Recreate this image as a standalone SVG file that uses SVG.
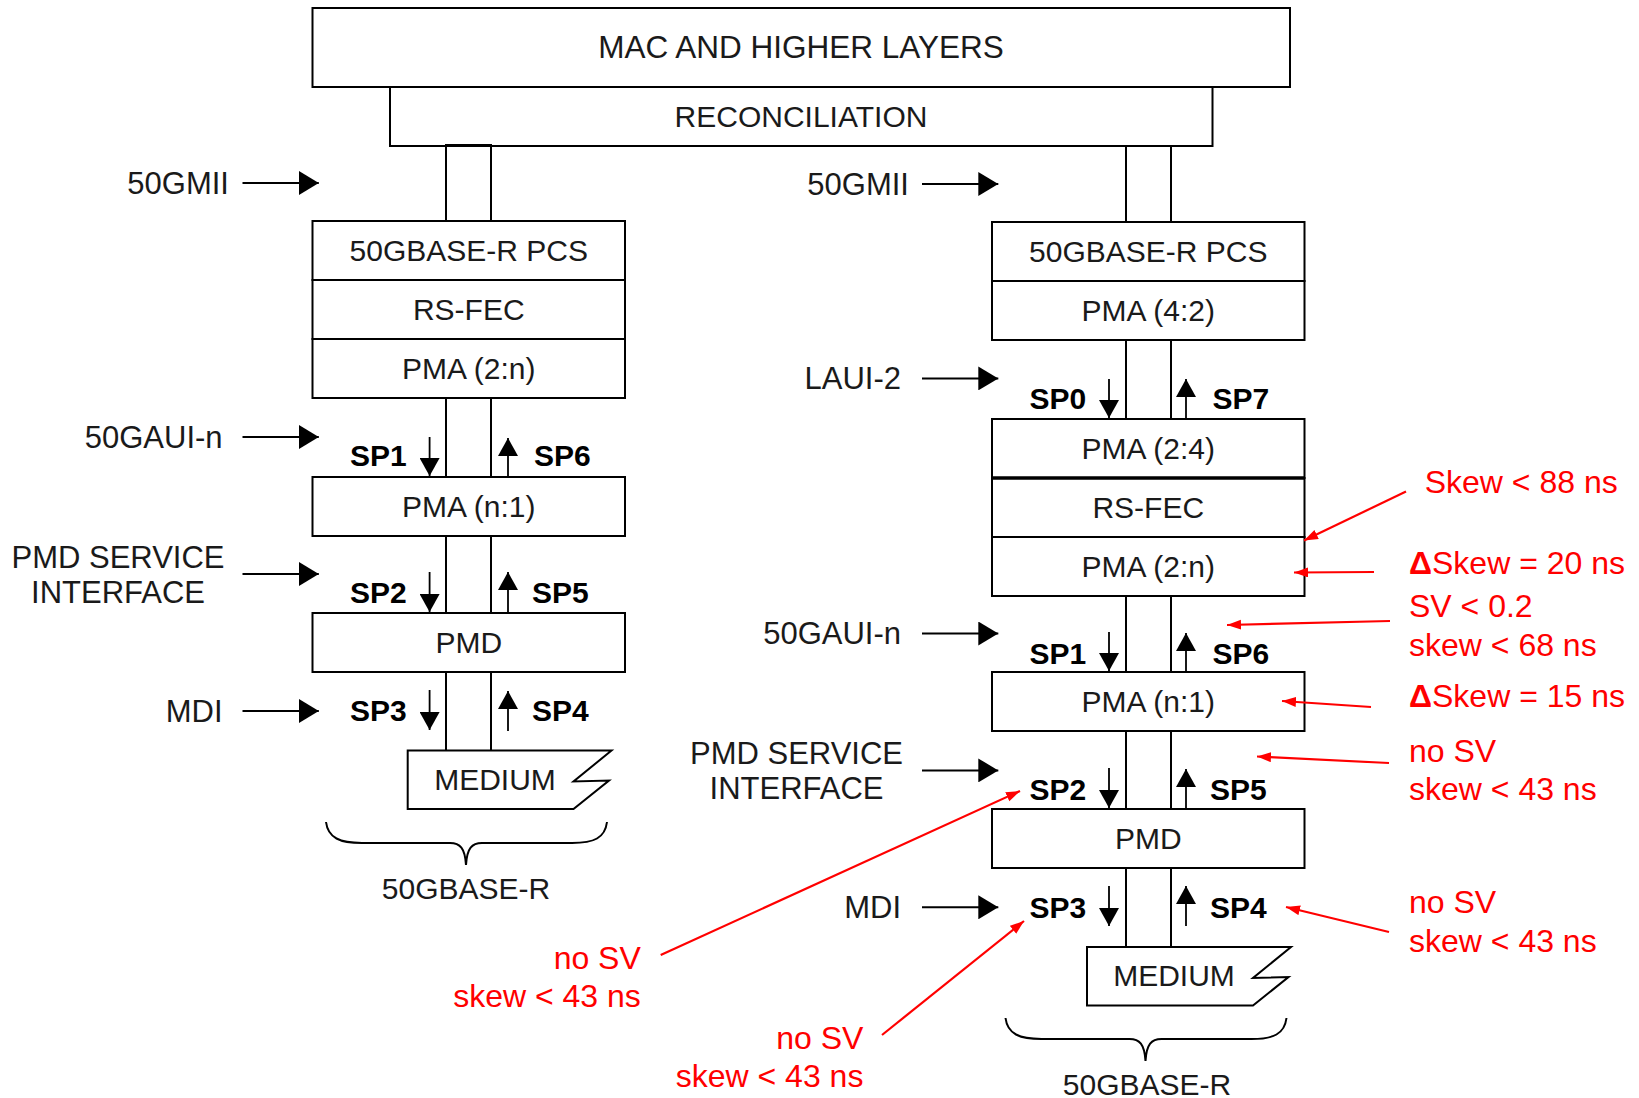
<svg xmlns="http://www.w3.org/2000/svg" width="1639" height="1098" viewBox="0 0 1639 1098">
<style>
.box{fill:#fff;stroke:#000;stroke-width:2}
.t{font-family:"Liberation Sans",Arial,sans-serif;font-size:30px;fill:#1a1a1a}
.il{font-size:31px}
.big{font-size:31.5px}
.c{text-anchor:middle}
.e{text-anchor:end}
.sp{font-family:"Liberation Sans",Arial,sans-serif;font-size:30px;font-weight:bold;fill:#000}
.red{font-family:"Liberation Sans",Arial,sans-serif;font-size:32px;fill:#f00}
.ln{stroke:#000;stroke-width:2;fill:none}
.la{stroke:#000;stroke-width:2;marker-end:url(#big)}
.sa{stroke:#000;stroke-width:1.8;marker-end:url(#small)}
.ra{stroke:#f00;stroke-width:2.2;marker-end:url(#redh)}
</style>
<defs>
<marker id="big" markerUnits="userSpaceOnUse" markerWidth="21" markerHeight="24" refX="20" refY="12" orient="auto"><path d="M0,0 L20,12 L0,24 Z" fill="#000"/></marker>
<marker id="small" markerUnits="userSpaceOnUse" markerWidth="19" markerHeight="20" refX="18" refY="10" orient="auto"><path d="M0,0 L18,10 L0,20 Z" fill="#000"/></marker>
<marker id="redh" markerUnits="userSpaceOnUse" markerWidth="15" markerHeight="11" refX="14" refY="5" orient="auto"><path d="M0,0 L14,5 L0,10 Z" fill="#f00"/></marker>
</defs>
<rect width="1639" height="1098" fill="#fff"/>

<g id="mac"><rect class="box" x="312.5" y="8" width="977.5" height="79"/><text class="t big c" x="801" y="58">MAC AND HIGHER LAYERS</text></g>
<g id="reconciliation"><rect class="box" x="390" y="87" width="822.5" height="59"/><text class="t c" x="801" y="126.5">RECONCILIATION</text></g>

<g id="pcs-l"><rect class="box" x="312.5" y="221" width="312.5" height="59"/><text class="t c" x="468.75" y="261">50GBASE-R PCS</text></g>
<g id="rsfec-l"><rect class="box" x="312.5" y="280" width="312.5" height="59"/><text class="t c" x="468.75" y="320">RS-FEC</text></g>
<g id="pma2n-l"><rect class="box" x="312.5" y="339" width="312.5" height="59"/><text class="t c" x="468.75" y="379">PMA (2:n)</text></g>
<g id="pman1-l"><rect class="box" x="312.5" y="477" width="312.5" height="59"/><text class="t c" x="468.75" y="517">PMA (n:1)</text></g>
<g id="pmd-l"><rect class="box" x="312.5" y="613" width="312.5" height="59"/><text class="t c" x="468.75" y="653">PMD</text></g>
<g id="medium-l"><path class="box" d="M407.7,750.5 L611.5,750.5 L573.5,781.5 L609,780.5 L573.5,809 L407.7,809 Z"/><text class="t c" x="495" y="790">MEDIUM</text></g>
<g id="brace-l"><path class="ln" d="M326,822 C328,838 340,843 362,843 L450,843 C460,843 465,848 466,865 C467,848 472,843 482,843 L572,843 C594,843 605,838 607,822"/><text class="t c" x="466" y="899">50GBASE-R</text></g>

<g id="pcs-r"><rect class="box" x="992" y="222" width="312.5" height="59"/><text class="t c" x="1148.25" y="262">50GBASE-R PCS</text></g>
<g id="pma42-r"><rect class="box" x="992" y="281" width="312.5" height="59"/><text class="t c" x="1148.25" y="321">PMA (4:2)</text></g>
<g id="pma24-r"><rect class="box" x="992" y="419" width="312.5" height="59"/><text class="t c" x="1148.25" y="459">PMA (2:4)</text></g>
<g id="rsfec-r"><rect class="box" x="992" y="478" width="312.5" height="59"/><line x1="992" y1="478" x2="1304.5" y2="478" stroke="#000" stroke-width="3.5"/><text class="t c" x="1148.25" y="518">RS-FEC</text></g>
<g id="pma2n-r"><rect class="box" x="992" y="537" width="312.5" height="59"/><text class="t c" x="1148.25" y="577">PMA (2:n)</text></g>
<g id="pman1-r"><rect class="box" x="992" y="672" width="312.5" height="59"/><text class="t c" x="1148.25" y="712">PMA (n:1)</text></g>
<g id="pmd-r"><rect class="box" x="992" y="809" width="312.5" height="59"/><text class="t c" x="1148.25" y="849">PMD</text></g>
<g id="medium-r"><path class="box" d="M1087,947 L1291,947 L1253,978 L1288.5,977 L1253,1005.5 L1087,1005.5 Z"/><text class="t c" x="1174" y="986">MEDIUM</text></g>
<g id="brace-r"><path class="ln" d="M1005.5,1018 C1007.5,1034 1019.5,1039 1041.5,1039 L1129.5,1039 C1139.5,1039 1144.5,1044 1145.5,1061 C1146.5,1044 1151.5,1039 1161.5,1039 L1251.5,1039 C1273.5,1039 1284.5,1034 1286.5,1018"/><text class="t c" x="1147" y="1095">50GBASE-R</text></g>

<g id="connectors">
<path class="ln" d="M446,221 V145 H491 V221"/>
<path class="ln" d="M446,398 V477 M491,398 V477 M446,536 V613 M491,536 V613 M446,672 V750.5 M491,672 V750.5"/>
<path class="ln" d="M1126,146 V222 M1171,146 V222 M1126,340 V419 M1171,340 V419 M1126,596 V672 M1171,596 V672 M1126,731 V809 M1171,731 V809 M1126,868 V947 M1171,868 V947"/>
<line class="sa" x1="429.6" y1="437" x2="429.6" y2="476"/>
<line class="sa" x1="429.6" y1="572" x2="429.6" y2="612"/>
<line class="sa" x1="429.6" y1="690" x2="429.6" y2="730"/>
<line class="sa" x1="508" y1="477" x2="508" y2="438"/>
<line class="sa" x1="508" y1="613" x2="508" y2="572"/>
<line class="sa" x1="508" y1="731" x2="508" y2="691"/>
<line class="sa" x1="1109" y1="379" x2="1109" y2="418"/>
<line class="sa" x1="1109" y1="632" x2="1109" y2="671"/>
<line class="sa" x1="1109" y1="768" x2="1109" y2="808"/>
<line class="sa" x1="1109" y1="886" x2="1109" y2="926"/>
<line class="sa" x1="1186" y1="419" x2="1186" y2="379"/>
<line class="sa" x1="1186" y1="672" x2="1186" y2="633"/>
<line class="sa" x1="1186" y1="809" x2="1186" y2="769"/>
<line class="sa" x1="1186" y1="926" x2="1186" y2="886"/>
<line class="la" x1="242.5" y1="183" x2="318.8" y2="183"/>
<line class="la" x1="242.5" y1="437" x2="318.8" y2="437"/>
<line class="la" x1="242.5" y1="574" x2="318.8" y2="574"/>
<line class="la" x1="242.5" y1="711" x2="318.8" y2="711"/>
<line class="la" x1="922" y1="184" x2="998.3" y2="184"/>
<line class="la" x1="922" y1="378.4" x2="998.3" y2="378.4"/>
<line class="la" x1="922" y1="633.5" x2="998.3" y2="633.5"/>
<line class="la" x1="922" y1="770.4" x2="998.3" y2="770.4"/>
<line class="la" x1="922" y1="907.3" x2="998.3" y2="907.3"/>
<line class="ra" x1="1406" y1="491.5" x2="1304" y2="540.5"/>
<line class="ra" x1="1374" y1="572" x2="1294" y2="572.5"/>
<line class="ra" x1="1390" y1="621" x2="1227" y2="625"/>
<line class="ra" x1="1371" y1="707" x2="1282" y2="701"/>
<line class="ra" x1="1389" y1="763" x2="1257" y2="756.5"/>
<line class="ra" x1="1389" y1="932" x2="1286" y2="907"/>
<line class="ra" x1="660.7" y1="955" x2="1020" y2="791"/>
<line class="ra" x1="882" y1="1035" x2="1024" y2="921"/>
</g>

<g id="interface-labels">
<text class="t il e" x="229" y="194">50GMII</text>
<text class="t il e" x="222.6" y="447.5">50GAUI-n</text>
<text class="t il c" x="118" y="567.5">PMD SERVICE</text>
<text class="t il c" x="118" y="603">INTERFACE</text>
<text class="t il e" x="222.6" y="721.5">MDI</text>
<text class="t il e" x="909" y="194.5">50GMII</text>
<text class="t il e" x="901" y="389">LAUI-2</text>
<text class="t il e" x="901" y="644">50GAUI-n</text>
<text class="t il c" x="796.5" y="764">PMD SERVICE</text>
<text class="t il c" x="796.5" y="798.5">INTERFACE</text>
<text class="t il e" x="901" y="918">MDI</text>
</g>

<g id="sp-labels">
<text class="sp" x="350" y="466">SP1</text>
<text class="sp" x="534" y="466">SP6</text>
<text class="sp" x="350" y="603">SP2</text>
<text class="sp" x="532" y="603">SP5</text>
<text class="sp" x="350" y="721">SP3</text>
<text class="sp" x="532" y="721">SP4</text>
<text class="sp" x="1029.6" y="409">SP0</text>
<text class="sp" x="1212.6" y="409">SP7</text>
<text class="sp" x="1029.6" y="664">SP1</text>
<text class="sp" x="1212.6" y="664">SP6</text>
<text class="sp" x="1029.6" y="800">SP2</text>
<text class="sp" x="1210" y="800">SP5</text>
<text class="sp" x="1029.6" y="918">SP3</text>
<text class="sp" x="1210" y="918">SP4</text>
</g>

<g id="annotations">
<text class="red" x="1424.7" y="493">Skew &lt; 88 ns</text>
<text class="red" x="1409" y="573.5"><tspan font-weight="bold">Δ</tspan>Skew = 20 ns</text>
<text class="red" x="1409" y="617">SV &lt; 0.2</text>
<text class="red" x="1409" y="656">skew &lt; 68 ns</text>
<text class="red" x="1409" y="707"><tspan font-weight="bold">Δ</tspan>Skew = 15 ns</text>
<text class="red" x="1409" y="761.5">no SV</text>
<text class="red" x="1409" y="800">skew &lt; 43 ns</text>
<text class="red" x="1409" y="913">no SV</text>
<text class="red" x="1409" y="951.5">skew &lt; 43 ns</text>
<text class="red e" x="640.8" y="969">no SV</text>
<text class="red e" x="640.8" y="1007">skew &lt; 43 ns</text>
<text class="red e" x="863.4" y="1049">no SV</text>
<text class="red e" x="863.4" y="1087">skew &lt; 43 ns</text>
</g>
</svg>
